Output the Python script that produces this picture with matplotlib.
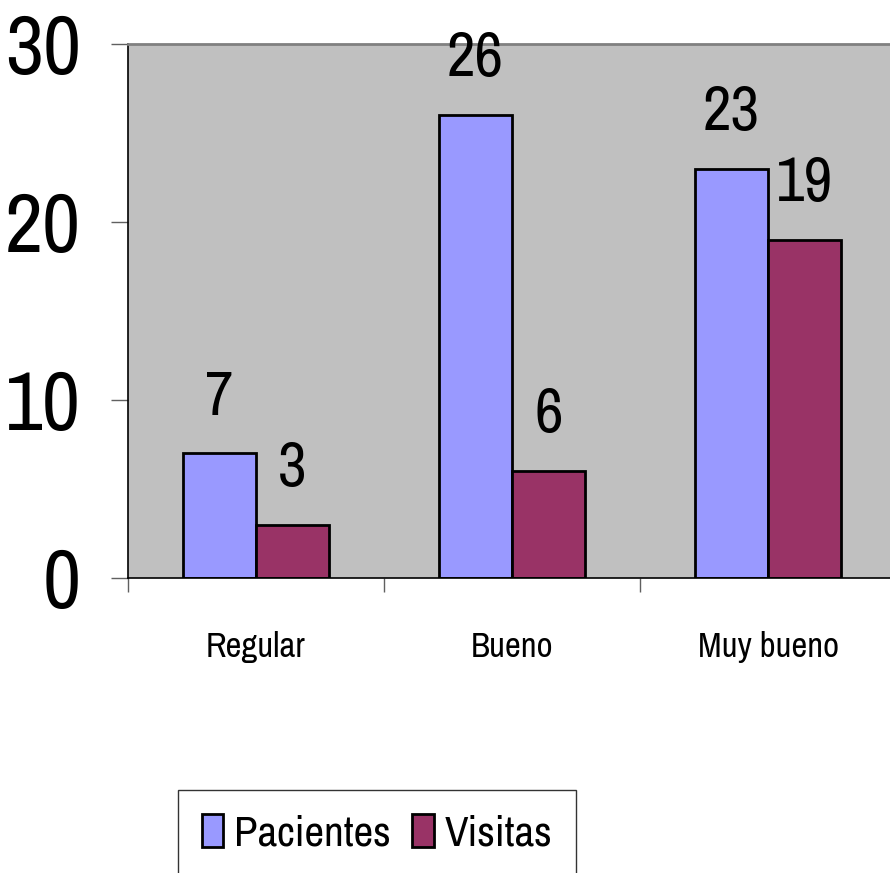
import numpy as np
import matplotlib.pyplot as plt

categories = ['Regular', 'Bueno', 'Muy bueno']
pacientes = [7, 26, 23]
visitas = [3, 6, 19]
series_names = ['Pacientes', 'Visitas']
y_ticks = [0, 10, 20, 30]

# condensed face standing in for Arial Narrow
plt.rcParams['font.family'] = ['Archivo Narrow', 'Liberation Sans', 'DejaVu Sans']

W, H = 890, 873
fig = plt.figure(figsize=(W / 100, H / 100), dpi=100)
ax = fig.add_axes([128 / W, 1 - 578 / H, (896 - 128) / W, (578 - 44) / H])
ax.set_facecolor('#C0C0C0')

x = np.arange(len(categories))
bw = 0.285
b1 = ax.bar(x - bw / 2, pacientes, bw, color='#9999FF', edgecolor='black', linewidth=2, label=series_names[0])
b2 = ax.bar(x + bw / 2, visitas, bw, color='#993366', edgecolor='black', linewidth=2, label=series_names[1])

for bars, vals in ((b1, pacientes), (b2, visitas)):
    for r, v in zip(bars, vals):
        ax.annotate(str(v), (r.get_x() + r.get_width() / 2, v), xytext=(0, 28),
                    textcoords='offset points', ha='center', va='baseline', fontsize=45)

ax.set_xlim(-0.5, 2.5)
ax.set_ylim(0, 30)
ax.set_yticks(y_ticks)
ax.set_yticklabels([str(t) for t in y_ticks], fontsize=60)
ax.set_xticks(x)
ax.set_xticklabels(categories, fontsize=25)
ax.set_xticks([-0.5, 0.5, 1.5], minor=True)
ax.tick_params(axis='x', which='major', length=0, pad=38)
ax.tick_params(axis='x', which='minor', length=10, width=1, color='#606060')
ax.tick_params(axis='y', length=12, width=1, color='#606060', pad=22)

for s in ('left', 'bottom'):
    ax.spines[s].set_color('black')
    ax.spines[s].set_linewidth(1.2)
ax.spines['top'].set_color('#808080')
ax.spines['top'].set_linewidth(2)
ax.spines['right'].set_visible(False)

leg = fig.legend(loc='upper left', bbox_to_anchor=(178 / W, 1 - 790 / H), fontsize=31,
                 ncol=2, frameon=True, fancybox=False, edgecolor='black',
                 handlelength=0.5, handleheight=0.8, handletextpad=0.25,
                 columnspacing=0.5, borderpad=0.55, borderaxespad=0)
leg.get_frame().set_linewidth(1)

fig.savefig('out.png', dpi=100)
